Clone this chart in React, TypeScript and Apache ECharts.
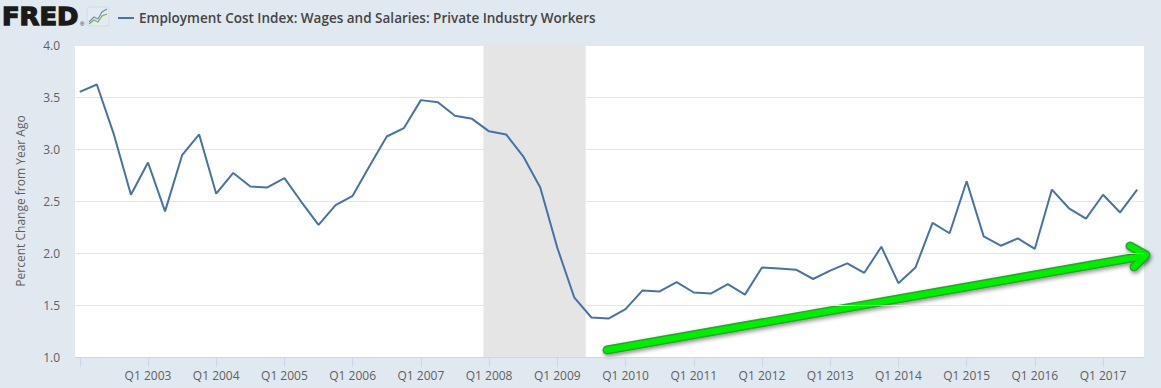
import React, { useEffect, useRef } from "react";
import * as echarts from "echarts";

const seriesName = "Employment Cost Index: Wages and Salaries: Private Industry Workers";
const startYear = 2002;
// Quarterly values, Q1 2002 .. Q3 2017 (percent change from year ago)
const ecti = [
  3.55, 3.62, 3.14, 2.56,
  2.87, 2.40, 2.94, 3.14,
  2.57, 2.77, 2.64, 2.63,
  2.72, 2.49, 2.27, 2.46,
  2.55, 2.84, 3.12, 3.20,
  3.47, 3.45, 3.32, 3.29,
  3.17, 3.14, 2.93, 2.63,
  2.05, 1.57, 1.38, 1.37,
  1.46, 1.64, 1.63, 1.72,
  1.62, 1.61, 1.70, 1.60,
  1.86, 1.85, 1.84, 1.75,
  1.83, 1.90, 1.81, 2.06,
  1.71, 1.86, 2.29, 2.19,
  2.69, 2.16, 2.07, 2.14,
  2.04, 2.61, 2.43, 2.33,
  2.56, 2.39, 2.61,
];
const recessionStart = 2007 + 11 / 12; // Dec 2007
const recessionEnd = 2009 + 5 / 12; // Jun 2009
const tickYears = [2002, 2003, 2004, 2005, 2006, 2007, 2008, 2009, 2010, 2011, 2012, 2013, 2014, 2015, 2016, 2017];
const labelYears = [2003, 2004, 2005, 2006, 2007, 2008, 2009, 2010, 2011, 2012, 2013, 2014, 2015, 2016, 2017];

export default function App() {
  const ref = useRef<HTMLDivElement>(null);
  useEffect(() => {
    if (!ref.current) return;
    const chart = echarts.init(ref.current, null, { renderer: "svg" });
    const data = ecti.map((v, i) => [startYear + i * 0.25, v]);
    const arrowOuter = { stroke: "#2aa52a", lineWidth: 9, lineCap: "round", lineJoin: "round", fill: null, shadowBlur: 4, shadowColor: "rgba(0,0,0,0.45)", shadowOffsetX: 1, shadowOffsetY: 2 };
    const arrowInner = { stroke: "#00ee00", lineWidth: 6, lineCap: "round", lineJoin: "round", fill: null };
    chart.setOption({
      animation: false,
      backgroundColor: "#e1e9f0",
      textStyle: { fontFamily: "Open Sans" },
      grid: { left: 75, right: 17, top: 45, bottom: 31, show: true, backgroundColor: "#ffffff", borderWidth: 0 },
      legend: {
        left: 113,
        top: 6,
        icon: "rect",
        itemWidth: 16,
        itemHeight: 2,
        itemGap: 6,
        textStyle: { fontFamily: "Open Sans", fontSize: 13.5, fontWeight: 600, color: "#444" },
        data: [seriesName],
      },
      xAxis: {
        type: "value",
        min: 2001.93,
        max: 2017.6,
        axisLine: { show: true, lineStyle: { color: "#ccd6eb", width: 1 } },
        axisTick: { show: true, customValues: tickYears, length: 10, lineStyle: { color: "#ccd6eb" } },
        axisLabel: {
          customValues: labelYears,
          formatter: (v: number) => "Q1 " + Math.round(v),
          color: "#606060",
          fontSize: 12,
          margin: 12,
        },
        splitLine: { show: false },
      },
      yAxis: {
        type: "value",
        min: 1,
        max: 4,
        interval: 0.5,
        name: "Percent Change from Year Ago",
        nameLocation: "middle",
        nameGap: 49,
        nameRotate: 90,
        nameTextStyle: { color: "#606060", fontSize: 12 },
        axisLine: { show: false },
        axisTick: { show: false },
        axisLabel: { color: "#606060", fontSize: 12, margin: 15, formatter: (v: number) => v.toFixed(1) },
        splitLine: { show: true, lineStyle: { color: "#e6e6e6", width: 1 } },
      },
      series: [
        {
          name: seriesName,
          type: "line",
          symbol: "none",
          data,
          lineStyle: { color: "#4572a7", width: 2 },
          itemStyle: { color: "#4572a7" },
          markArea: {
            silent: true,
            itemStyle: { color: "#e5e5e5" },
            data: [[{ xAxis: recessionStart }, { xAxis: recessionEnd }]],
          },
          z: 3,
        },
      ],
      graphic: [
        {
          type: "text",
          x: 2,
          y: 4,
          scaleX: 1.03,
          style: { text: "FRED", fontFamily: "DejaVu Sans", fontWeight: "bold", fontSize: 25, fill: "#1a1a1a", stroke: "#1a1a1a", lineWidth: 1.4 },
        },
        {
          type: "text",
          x: 80,
          y: 21,
          style: { text: "®", fontFamily: "Liberation Sans", fontSize: 6, fill: "#1a1a1a" },
        },
        {
          type: "group",
          x: 87,
          y: 7,
          children: [
            { type: "rect", shape: { x: 0, y: 0, width: 22, height: 19, r: 2 }, style: { fill: "#e4eaef", stroke: "#d3dbe2" } },
            { type: "polyline", shape: { points: [[2, 15], [7, 10], [11, 12], [15, 5], [20, 2]] }, style: { stroke: "#6d91bd", lineWidth: 1.2, fill: null } },
            { type: "polyline", shape: { points: [[2, 17], [7, 13], [11, 15], [15, 9], [20, 7]] }, style: { stroke: "#7fb24a", lineWidth: 1.2, fill: null } },
          ],
        },
        {
          type: "group",
          z: 100,
          children: [
            { type: "line", shape: { x1: 607, y1: 350, x2: 1143, y2: 256 }, style: arrowOuter },
            { type: "polyline", shape: { points: [[1130, 246], [1146, 255], [1134, 267]] }, style: arrowOuter },
            { type: "line", shape: { x1: 607, y1: 350, x2: 1143, y2: 256 }, style: arrowInner },
            { type: "polyline", shape: { points: [[1130, 246], [1146, 255], [1134, 267]] }, style: arrowInner },
          ],
        },
      ],
    });
    return () => chart.dispose();
  }, []);
  return <div ref={ref} style={{ position: "absolute", left: 0, top: 0, width: 1161, height: 388 }} />;
}
